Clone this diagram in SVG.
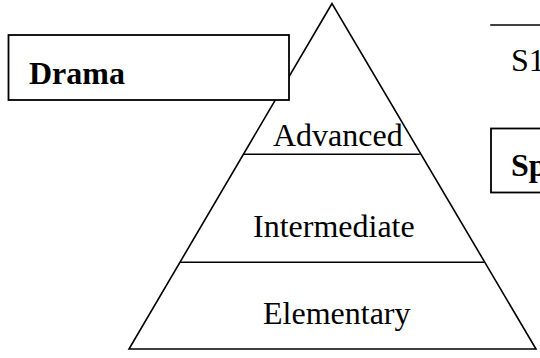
<svg xmlns="http://www.w3.org/2000/svg" width="540" height="358" viewBox="0 0 540 358">
  <style>
    .edge { fill: none; stroke: #000; stroke-width: 1.6; stroke-linecap: square; }
    .box { fill: #fff; stroke: #000; stroke-width: 1.8; }
    .label { font-family: "Liberation Serif", "Times New Roman", serif; font-size: 32px; fill: #000; }
    .bold { font-weight: bold; }
  </style>

  <!-- Pyramid of levels -->
  <g id="pyramid">
    <polygon class="edge" points="332,3.5 129,349 536,349" stroke-linejoin="miter"/>
    <line class="edge" x1="244" y1="154.3" x2="419" y2="154.3"/>
    <line class="edge" x1="181" y1="262.3" x2="484" y2="262.3"/>
  </g>

  <g id="level-advanced">
    <text class="label" x="273" y="145.5">Advanced</text>
  </g>
  <g id="level-intermediate">
    <text class="label" x="253" y="236.5">Intermediate</text>
  </g>
  <g id="level-elementary">
    <text class="label" x="263" y="323.5">Elementary</text>
  </g>

  <!-- Drama label box (covers the pyramid edge) -->
  <g id="drama">
    <rect class="box" x="8.5" y="35" width="280.5" height="65"/>
    <text class="label bold" x="29" y="83.5">Drama</text>
  </g>

  <!-- Right column -->
  <g id="s1">
    <line class="edge" x1="491" y1="25" x2="545" y2="25" stroke-linecap="butt"/>
    <text class="label" x="511" y="71">S1</text>
  </g>

  <g id="sp">
    <rect class="box" x="491" y="128.5" width="70" height="64"/>
    <text class="label bold" x="511" y="175.5">Sp</text>
  </g>

  <!-- No connectors in this figure -->
  <g id="connectors"/>
</svg>
